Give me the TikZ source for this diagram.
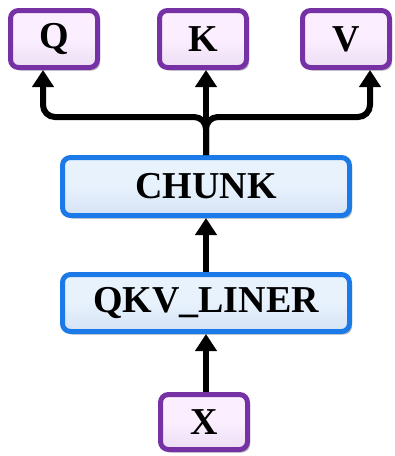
\documentclass[tikz,border=0pt]{standalone}
\usepackage{fontspec}
\setmainfont{Liberation Serif}
\usetikzlibrary{arrows.meta,shadows,calc}
\definecolor{pborder}{RGB}{118,50,165}
\definecolor{pfill}{RGB}{250,238,255}
\definecolor{pfillb}{RGB}{236,222,244}
\definecolor{bborder}{RGB}{28,122,232}
\definecolor{bfill}{RGB}{232,242,253}
\definecolor{bfillb}{RGB}{212,226,244}
\tikzset{
  pbox/.style={draw=pborder, line width=5pt, top color=pfill, bottom color=pfillb,
    middle color=pfill, rounded corners=8pt,
    minimum width=87pt, minimum height=57pt, inner sep=0pt,
    font=\fontsize{38}{40}\selectfont\bfseries,
    drop shadow={shadow xshift=2.5pt, shadow yshift=-3pt, fill=black!55}},
  bbox/.style={pbox, draw=bborder, top color=bfill, bottom color=bfillb,
    middle color=bfill, minimum width=287pt},
  conn/.style={line width=6pt, draw=black, -{Triangle[length=17pt,width=21pt]}},
}
\begin{document}
\begin{tikzpicture}[x=1pt,y=-1pt]
\useasboundingbox (0,0) rectangle (395,456);
\node[pbox] (Q) at (54,39) {Q};
\node[pbox] (K) at (203,39) {K};
\node[pbox] (V) at (346,39) {V};
\node[bbox, minimum height=58pt] (chunk) at (206,186.5) {CHUNK};
\node[bbox] (qkv) at (206,303) {QKV\_LINER};
\node[pbox, minimum height=55pt] (X) at (204,422) {X};
\coordinate (br) at (206,117);
\draw[conn, rounded corners=12pt] (chunk.north) -- (br) -| ([xshift=-11pt]Q.south);
\draw[conn, rounded corners=12pt] (chunk.north) -- (br) -| ([xshift=24pt]V.south);
\draw[conn] (chunk.north) -- (K.south -| chunk.north);
\draw[conn] (qkv.north) -- (chunk.south);
\draw[conn] (X.north -| qkv.north) -- (qkv.south);
\end{tikzpicture}
\end{document}
